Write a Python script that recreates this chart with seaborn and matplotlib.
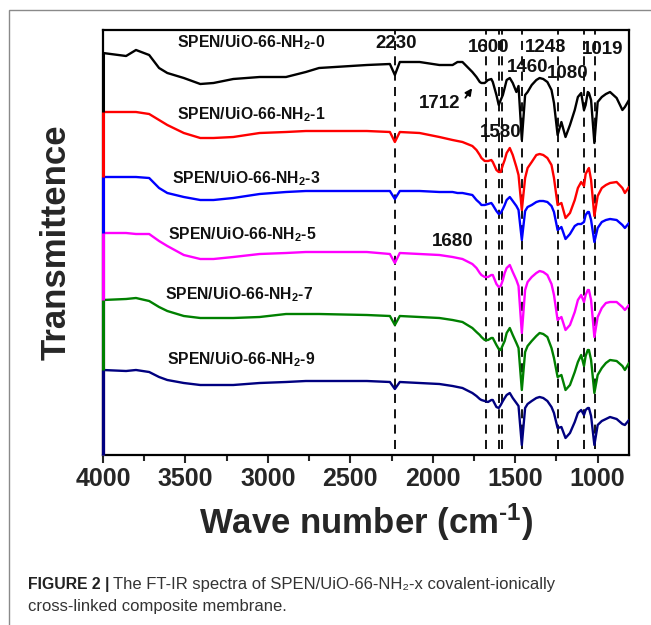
import numpy as np
import pandas as pd
import matplotlib
matplotlib.use("Agg")
import matplotlib.pyplot as plt
from matplotlib.ticker import MultipleLocator
from matplotlib.patches import Rectangle
import seaborn as sns

# ---------------- data ----------------
wavenumber = [4000, 3860, 3800, 3720, 3660, 3610, 3510, 3410, 3330, 3210, 3050, 2890, 2770, 2690,
              2400, 2260, 2230, 2200, 2080, 1960, 1880, 1850, 1820, 1760, 1735, 1715, 1705, 1685,
              1665, 1645, 1636, 1614, 1600, 1588, 1575, 1564, 1552, 1533, 1515, 1493, 1480, 1460,
              1440, 1425, 1400, 1372, 1352, 1330, 1305, 1280, 1265, 1243, 1220, 1195, 1168, 1139,
              1120, 1100, 1083, 1073, 1060, 1053, 1040, 1020, 1000, 975, 950, 925, 885, 850, 835, 810]

t_x0 = [402, 399, 405, 400, 387, 382, 377, 371, 372, 376, 378, 378, 383, 387,
        390, 391, 380, 393, 393, 390, 390, 393, 393, 383, 378, 373, 372, 372,
        375, 376, 373, 360, 350, 355, 360, 367, 375, 377, 372, 363, 369, 315,
        360, 363, 370, 375, 377, 376, 373, 365, 352, 320, 333, 318, 330, 345,
        358, 362, 345, 350, 363, 362, 355, 312, 353, 358, 361, 363, 357, 345, 348, 355]

t_x1 = [343, 343, 343, 341, 335, 330, 322, 317, 317, 318, 322, 323, 324, 324,
        324, 323, 313, 323, 322, 318, 315, 314, 313, 309, 305, 300, 297, 294,
        294, 295, 293, 285, 283, 283, 290, 295, 302, 307, 300, 288, 280, 245,
        277, 287, 293, 300, 301, 300, 297, 290, 277, 250, 252, 237, 242, 255,
        267, 273, 269, 281, 285, 287, 275, 239, 259, 267, 270, 272, 273, 267, 262, 268]

t_x3 = [278, 278, 278, 277, 267, 262, 258, 255, 255, 257, 261, 263, 264, 264,
        264, 264, 256, 264, 264, 263, 263, 262, 262, 260, 255, 252, 250, 250,
        251, 252, 250, 244, 241, 242, 246, 250, 255, 258, 254, 249, 245, 215,
        244, 248, 250, 253, 254, 254, 253, 249, 243, 225, 228, 216, 221, 229,
        231, 231, 233, 240, 243, 243, 235, 213, 227, 233, 235, 236, 235, 230, 227, 232]

t_x5 = [222, 222, 221, 221, 214, 209, 200, 196, 196, 198, 201, 202, 203, 203,
        203, 201, 192, 202, 201, 200, 198, 197, 196, 191, 187, 182, 180, 178,
        178, 180, 180, 171, 168, 169, 175, 182, 187, 190, 183, 175, 169, 122,
        165, 173, 178, 182, 184, 183, 180, 171, 160, 135, 138, 125, 130, 143,
        155, 160, 153, 160, 165, 165, 155, 118, 138, 147, 152, 153, 153, 148, 145, 150]

t_x7 = [155, 156, 157, 154, 148, 144, 139, 137, 137, 137, 138, 141, 141, 141,
        140, 139, 130, 139, 138, 137, 135, 134, 133, 127, 123, 120, 118, 115,
        115, 117, 117, 110, 106, 105, 110, 114, 122, 127, 120, 112, 107, 65,
        103, 109, 114, 119, 122, 121, 118, 107, 97, 78, 80, 65, 70, 83,
        93, 100, 89, 99, 105, 105, 95, 62, 80, 87, 92, 95, 94, 89, 85, 92]

t_x9 = [85, 84, 85, 83, 78, 75, 72, 70, 70, 70, 72, 73, 74, 74,
        74, 73, 66, 73, 72, 71, 69, 68, 67, 62, 59, 56, 55, 54,
        53, 55, 55, 48, 47, 50, 54, 57, 60, 62, 57, 52, 49, 10,
        47, 51, 54, 57, 58, 57, 54, 48, 42, 27, 28, 17, 22, 33,
        42, 45, 40, 45, 47, 47, 39, 10, 30, 34, 36, 38, 36, 31, 30, 35]

samples = ["x0", "x1", "x3", "x5", "x7", "x9"]
sample_labels = ["SPEN/UiO-66-NH$_2$-0", "SPEN/UiO-66-NH$_2$-1", "SPEN/UiO-66-NH$_2$-3",
                 "SPEN/UiO-66-NH$_2$-5", "SPEN/UiO-66-NH$_2$-7", "SPEN/UiO-66-NH$_2$-9"]
sample_colors = ["#000000", "#ff0000", "#0000ff", "#ff00ff", "#008000", "#000080"]
label_x = [3552, 3552, 3582, 3606, 3624, 3612]
label_y = [412, 340, 276, 220, 160, 95]

peak_lines = [2230, 1680, 1600, 1580, 1460, 1243, 1080, 1019]
peak_texts = ["2230", "1600", "1243", "1019", "1460", "1080", "1712", "1580", "1680"]
peak_text_x = [2224, 1661, 1318, 967, 1424, 1182, 1958, 1588, 1879]
peak_text_y = [411, 407, 407, 406, 387, 382, 351, 323, 214]
arrow_start = (1812, 355)
arrow_end = (1752, 369)

x_ticks = [4000, 3500, 3000, 2500, 2000, 1500, 1000]

series = [t_x0, t_x1, t_x3, t_x5, t_x7, t_x9]
df = pd.concat([pd.DataFrame({"wn": wavenumber, "T": s, "sample": name})
                for s, name in zip(series, samples)], ignore_index=True)

# ---------------- style ----------------
sns.set_theme(style="white")
plt.rcParams["font.family"] = ["Liberation Sans", "DejaVu Sans"]
plt.rcParams["mathtext.fontset"] = "custom"
plt.rcParams["mathtext.rm"] = "Liberation Sans:bold"
plt.rcParams["mathtext.it"] = "Liberation Sans:bold"
plt.rcParams["mathtext.bf"] = "Liberation Sans:bold"

W, H = 651, 625
fig = plt.figure(figsize=(W / 100, H / 100), dpi=100)
fig.patch.set_facecolor("white")

# outer frame of the figure panel
fig.patches.append(Rectangle((9 / W, -0.05), 1.2, 1 - 10 / H + 0.05, transform=fig.transFigure,
                             fill=False, edgecolor="#8a8a8a", lw=1.0))

ax = fig.add_axes([103 / W, 1 - 455 / H, 526 / W, 425 / H])

sns.lineplot(data=df, x="wn", y="T", hue="sample", palette=dict(zip(samples, sample_colors)),
             estimator=None, sort=False, lw=1.7, legend=False, ax=ax, zorder=3)

for s, c in zip(series, sample_colors):
    ax.vlines(wavenumber[0], 0, s[0], color=c, lw=2.2, zorder=4, clip_on=False)

for p in peak_lines:
    ax.axvline(p, ymin=0.015, ymax=1, color="black", lw=1.3, ls=(0, (5, 3.5)), zorder=2)

for lab, lx, ly in zip(sample_labels, label_x, label_y):
    ax.text(lx, ly, lab, fontsize=11.3, fontweight="bold", ha="left", va="center", color="#111111")

for t, px, py in zip(peak_texts, peak_text_x, peak_text_y):
    ax.text(px, py, t, fontsize=13.5, fontweight="bold", ha="center", va="center", color="#111111")

ax.annotate("", xy=arrow_end, xytext=arrow_start,
            arrowprops=dict(arrowstyle="-|>", color="black", lw=1.3, mutation_scale=10))

ax.set_xlim(4000, 810)
ax.set_ylim(0, 425)
ax.set_xticks(x_ticks)
ax.set_xticklabels([str(v) for v in x_ticks])
ax.xaxis.set_minor_locator(MultipleLocator(250))
ax.set_yticks([])
ax.tick_params(axis="x", which="major", direction="out", length=6, width=1.5, pad=3,
               labelsize=18, bottom=True)
ax.tick_params(axis="x", which="minor", direction="out", length=4, width=1.5, bottom=True)
for lbl in ax.get_xticklabels():
    lbl.set_fontweight("bold")
for sp in ax.spines.values():
    sp.set_visible(True)
    sp.set_color("black")
    sp.set_linewidth(1.6)

ax.set_xlabel(r"Wave number (cm$^{\text{-}1}$)", fontsize=25, fontweight="bold", labelpad=7)
ax.set_ylabel("Transmittence", fontsize=25, fontweight="bold", labelpad=22)

# caption
cap_font = ["Liberation Sans Narrow", "Liberation Sans", "DejaVu Sans"]
fig.text(28 / W, 1 - 584 / H, "FIGURE 2 |", fontsize=11.3, fontweight="bold",
         family=cap_font, color="#222222", va="center", ha="left")
fig.text(113 / W, 1 - 584 / H, "The FT-IR spectra of SPEN/UiO-66-NH\u2082-x covalent-ionically",
         fontsize=12.0, family=cap_font, color="#333333", va="center", ha="left")
fig.text(28 / W, 1 - 607 / H, "cross-linked composite membrane.",
         fontsize=12.0, family=cap_font, color="#333333", va="center", ha="left")

fig.savefig("out.png", dpi=100, facecolor="white")
